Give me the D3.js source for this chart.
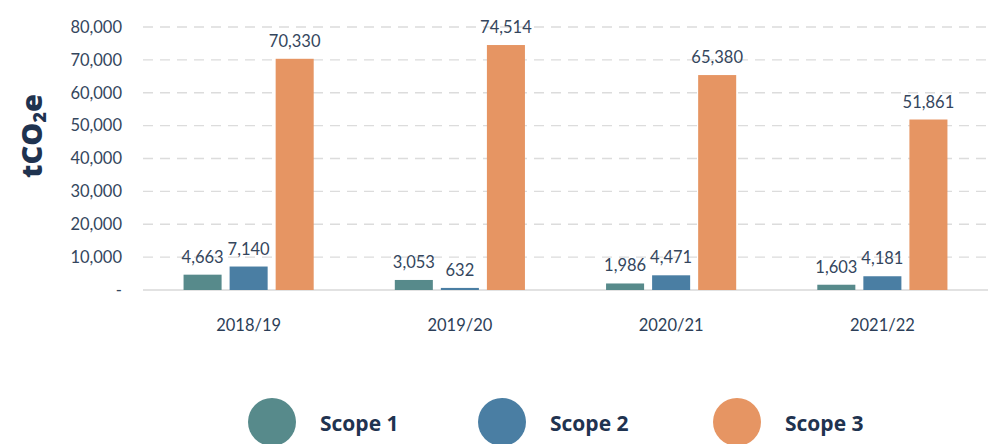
<!DOCTYPE html>
<html>
<head>
<meta charset="utf-8">
<script src="https://cdn.jsdelivr.net/npm/d3@7"></script>
<style>
  body { margin: 0; background: #fff; }
  svg { display: block; font-family: Lato, "Open Sans", sans-serif; }
</style>
</head>
<body>
<div id="chart"></div>
<script>
const years = ["2018/19", "2019/20", "2020/21", "2021/22"];
const scopes = ["Scope 1", "Scope 2", "Scope 3"];
const scope1 = [4663, 3053, 1986, 1603];
const scope2 = [7140, 632, 4471, 4181];
const scope3 = [70330, 74514, 65380, 51861];
const yTicks = [0, 10000, 20000, 30000, 40000, 50000, 60000, 70000, 80000];
const colors = ["#578a8b", "#4a7ea3", "#e69563"];

const W = 988, H = 444;
const margin = { top: 27, right: 0, bottom: 154, left: 143 };
const series = [scope1, scope2, scope3];

const svg = d3.select("#chart").append("svg")
    .attr("width", W)
    .attr("height", H);

const x0 = d3.scaleBand().domain(years)
    .range([margin.left, W - margin.right])
    .paddingInner(0.384).paddingOuter(0.192);
const x1 = d3.scaleBand().domain(scopes)
    .range([0, x0.bandwidth()])
    .paddingInner(0.174);
const y = d3.scaleLinear().domain([0, 80000])
    .range([H - margin.bottom, margin.top]);

// gridlines
svg.append("g").selectAll("line")
    .data(yTicks.filter(d => d > 0))
    .join("line")
    .attr("x1", margin.left).attr("x2", W)
    .attr("y1", d => y(d)).attr("y2", d => y(d))
    .attr("stroke", "#dcdcdc")
    .attr("stroke-width", 1.3)
    .attr("stroke-dasharray", "10,7");

// baseline
svg.append("line")
    .attr("x1", margin.left).attr("x2", W)
    .attr("y1", y(0)).attr("y2", y(0))
    .attr("stroke", "#d9d9d9")
    .attr("stroke-width", 1.5);

// y axis labels
const yAxis = svg.append("g")
    .attr("transform", `translate(${margin.left - 21},0)`)
    .call(d3.axisLeft(y).tickValues(yTicks).tickSize(0)
        .tickFormat(d => d === 0 ? "-" : d3.format(",")(d)));
yAxis.select(".domain").remove();
yAxis.selectAll("text")
    .attr("x", 0)
    .style("font-size", "16.5px")
    .style("font-family", "Lato, sans-serif")
    .attr("fill", "#34465d");

// y title
svg.append("text")
    .attr("transform", `translate(42,136) rotate(-90)`)
    .attr("text-anchor", "middle")
    .style("font-size", "29px")
    .style("font-weight", "900")
    .style("font-family", "'Open Sans', sans-serif")
    .attr("fill", "#1f3350")
    .html('tCO<tspan font-size="18px" dy="4">2</tspan><tspan dy="-4">e</tspan>');

// bars
const groups = svg.append("g").selectAll("g")
    .data(years)
    .join("g")
    .attr("transform", d => `translate(${x0(d)},0)`);

groups.each(function(yr, i) {
    const g = d3.select(this);
    scopes.forEach((s, j) => {
        const v = series[j][i];
        g.append("rect")
            .attr("x", x1(s))
            .attr("y", y(v))
            .attr("width", x1.bandwidth())
            .attr("height", y(0) - y(v))
            .attr("fill", colors[j]);
        g.append("text")
            .attr("x", x1(s) + x1.bandwidth() / 2)
            .attr("y", y(v) - 12)
            .attr("text-anchor", "middle")
            .style("font-size", "16.5px")
            .attr("fill", "#34465d")
            .text(d3.format(",")(v));
    });
});

// x labels
svg.append("g").selectAll("text")
    .data(years)
    .join("text")
    .attr("x", d => x0(d) + x0.bandwidth() / 2)
    .attr("y", 331)
    .attr("text-anchor", "middle")
    .style("font-size", "16.5px")
    .attr("fill", "#2c3e58")
    .text(d => d);

// legend
const legendX = [272, 502, 737];
const legend = svg.append("g").selectAll("g")
    .data(scopes)
    .join("g")
    .attr("transform", (d, i) => `translate(${legendX[i]},422)`);
legend.append("circle")
    .attr("r", 24)
    .attr("fill", (d, i) => colors[i]);
legend.append("text")
    .attr("x", 48)
    .attr("y", 9)
    .style("font-size", "21px")
    .style("font-weight", "700")
    .style("font-family", "'Open Sans', sans-serif")
    .attr("fill", "#1f3350")
    .text(d => d);
</script>
</body>
</html>
